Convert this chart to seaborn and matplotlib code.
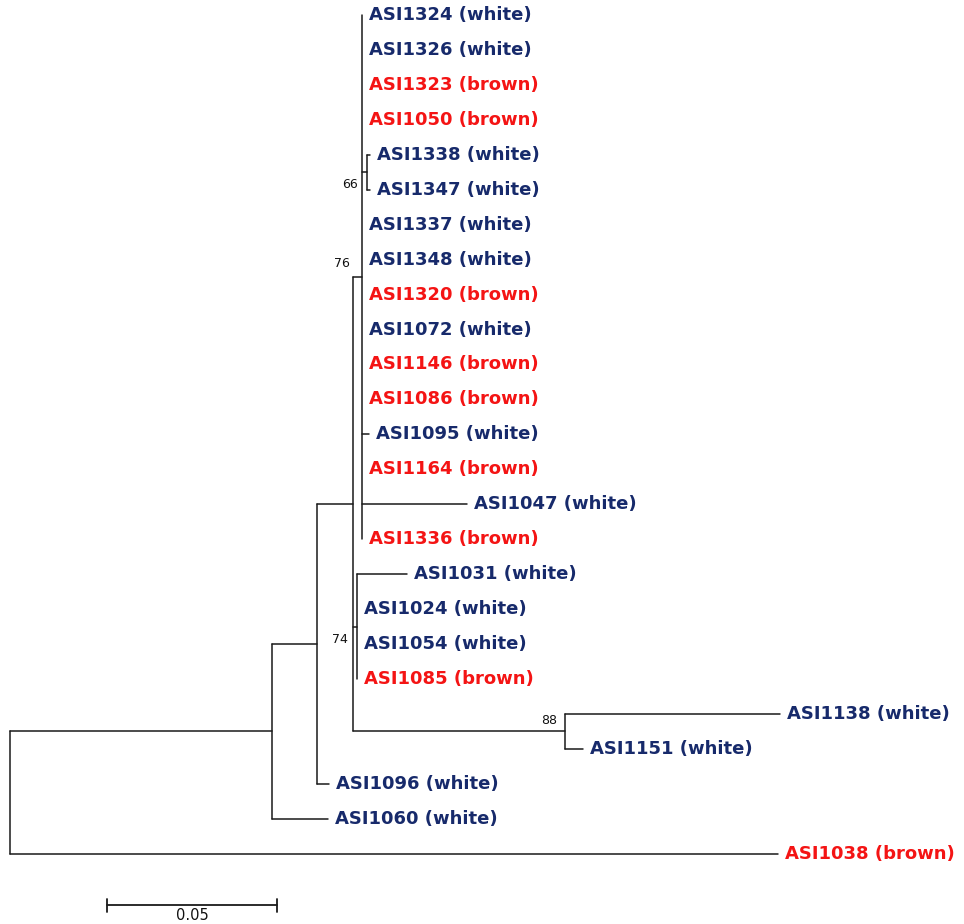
## Phylogenetic tree of ASI isolates (white vs brown) drawn with seaborn
import numpy as np
import pandas as pd
import matplotlib
matplotlib.use('Agg')
import matplotlib.pyplot as plt
import seaborn as sns

## Tips, top to bottom as they appear in the tree
taxa = ['ASI1324', 'ASI1326', 'ASI1323', 'ASI1050', 'ASI1338', 'ASI1347',
        'ASI1337', 'ASI1348', 'ASI1320', 'ASI1072', 'ASI1146', 'ASI1086',
        'ASI1095', 'ASI1164', 'ASI1047', 'ASI1336', 'ASI1031', 'ASI1024',
        'ASI1054', 'ASI1085', 'ASI1138', 'ASI1151', 'ASI1096', 'ASI1060',
        'ASI1038']
pigment = ['white', 'white', 'brown', 'brown', 'white', 'white',
           'white', 'white', 'brown', 'white', 'brown', 'brown',
           'white', 'brown', 'white', 'brown', 'white', 'white',
           'white', 'brown', 'white', 'white', 'white', 'white',
           'brown']
tip_parent = ['D', 'D', 'D', 'D', 'G', 'G',
              'D', 'D', 'D', 'D', 'D', 'D',
              'D', 'D', 'D', 'D', 'E', 'E',
              'E', 'E', 'F', 'F', 'B', 'A',
              'root']
tip_length = [0.0, 0.0, 0.0, 0.0, 0.0009, 0.0009,
              0.0, 0.0, 0.0, 0.0, 0.0, 0.0,
              0.0021, 0.0, 0.0309, 0.0, 0.0147, 0.0,
              0.0, 0.0, 0.0632, 0.0053, 0.0035, 0.0165,
              0.2259]

## Internal nodes (parents listed before children)
nodes = ['root', 'A', 'B', 'C', 'D', 'E', 'F', 'G']
node_parent = [None, 'root', 'A', 'B', 'C', 'C', 'C', 'D']
node_length = [0.0, 0.0771, 0.0132, 0.0106, 0.0026, 0.0012, 0.0624, 0.0015]

## Bootstrap support
support_node = ['G', 'D', 'E', 'F']
support_value = [66, 76, 74, 88]

scale_length = 0.05

## ---- layout ----
colors = {'white': '#172a6b', 'brown': '#f41414'}
support_offset = [(-9, -12), (-12, 14), (-9, -13), (-8, 11)]  # pixels (dx, dy)

node_x = {}
for n, p, l in zip(nodes, node_parent, node_length):
    node_x[n] = 0.0 if p is None else node_x[p] + l
tip_x = [node_x[p] + l for p, l in zip(tip_parent, tip_length)]
tip_y = list(range(len(taxa)))

node_y = {}
def child_ys(n):
    ys = [y for y, p in zip(tip_y, tip_parent) if p == n]
    ys += [get_y(c) for c, p in zip(nodes, node_parent) if p == n]
    return ys

def get_y(n):
    if n not in node_y:
        ys = child_ys(n)
        node_y[n] = (min(ys) + max(ys)) / 2
    return node_y[n]

for n in nodes:
    get_y(n)

## Build line segments: horizontal branches plus vertical connectors
rows = []
seg = 0
for n, p in zip(nodes, node_parent):
    ys = child_ys(n)
    rows += [(seg, node_x[n], min(ys)), (seg, node_x[n], max(ys))]
    seg += 1
    if p is not None:
        rows += [(seg, node_x[p], node_y[n]), (seg, node_x[n], node_y[n])]
        seg += 1
for x, y, p in zip(tip_x, tip_y, tip_parent):
    if x > node_x[p]:
        rows += [(seg, node_x[p], y), (seg, x, y)]
        seg += 1
segments = pd.DataFrame(rows, columns=['seg', 'x', 'y'])

sns.set_style('white')
fig = plt.figure(figsize=(9.64, 9.24), dpi=100)
ax = fig.add_axes([0, 0, 1, 1])

sns.lineplot(data=segments, x='x', y='y', units='seg', estimator=None,
             sort=False, color='#1a1a1a', linewidth=1.1, ax=ax, legend=False)

for name, pig, x, y in zip(taxa, pigment, tip_x, tip_y):
    ax.annotate(f'{name} ({pig})', xy=(x, y), xytext=(7, 0),
                textcoords='offset pixels', ha='left', va='center',
                fontsize=13, fontweight='bold', color=colors[pig])

for n, v, (dx, dy) in zip(support_node, support_value, support_offset):
    ax.annotate(str(v), xy=(node_x[n], node_y[n]), xytext=(dx, dy),
                textcoords='offset pixels', ha='right', va='center',
                fontsize=9, color='#111111')

## Scale bar
sb_x0, sb_y = 0.0285, 25.47
sb = pd.DataFrame({'seg': [0, 0, 1, 1, 2, 2],
                   'x': [sb_x0, sb_x0 + scale_length, sb_x0, sb_x0,
                         sb_x0 + scale_length, sb_x0 + scale_length],
                   'y': [sb_y, sb_y, sb_y - 0.19, sb_y + 0.19,
                         sb_y - 0.19, sb_y + 0.19]})
sns.lineplot(data=sb, x='x', y='y', units='seg', estimator=None, sort=False,
             color='#1a1a1a', linewidth=1.3, ax=ax, legend=False)
ax.text(sb_x0 + scale_length / 2, sb_y + 0.3, f'{scale_length:.2f}',
        ha='center', va='center', fontsize=10.5, color='#111111')

ax.set_xlim(-10 / 3400, 954 / 3400)
ax.set_ylim(909 / 34.95, -15 / 34.95)
ax.axis('off')

fig.savefig('out.png', dpi=100)
